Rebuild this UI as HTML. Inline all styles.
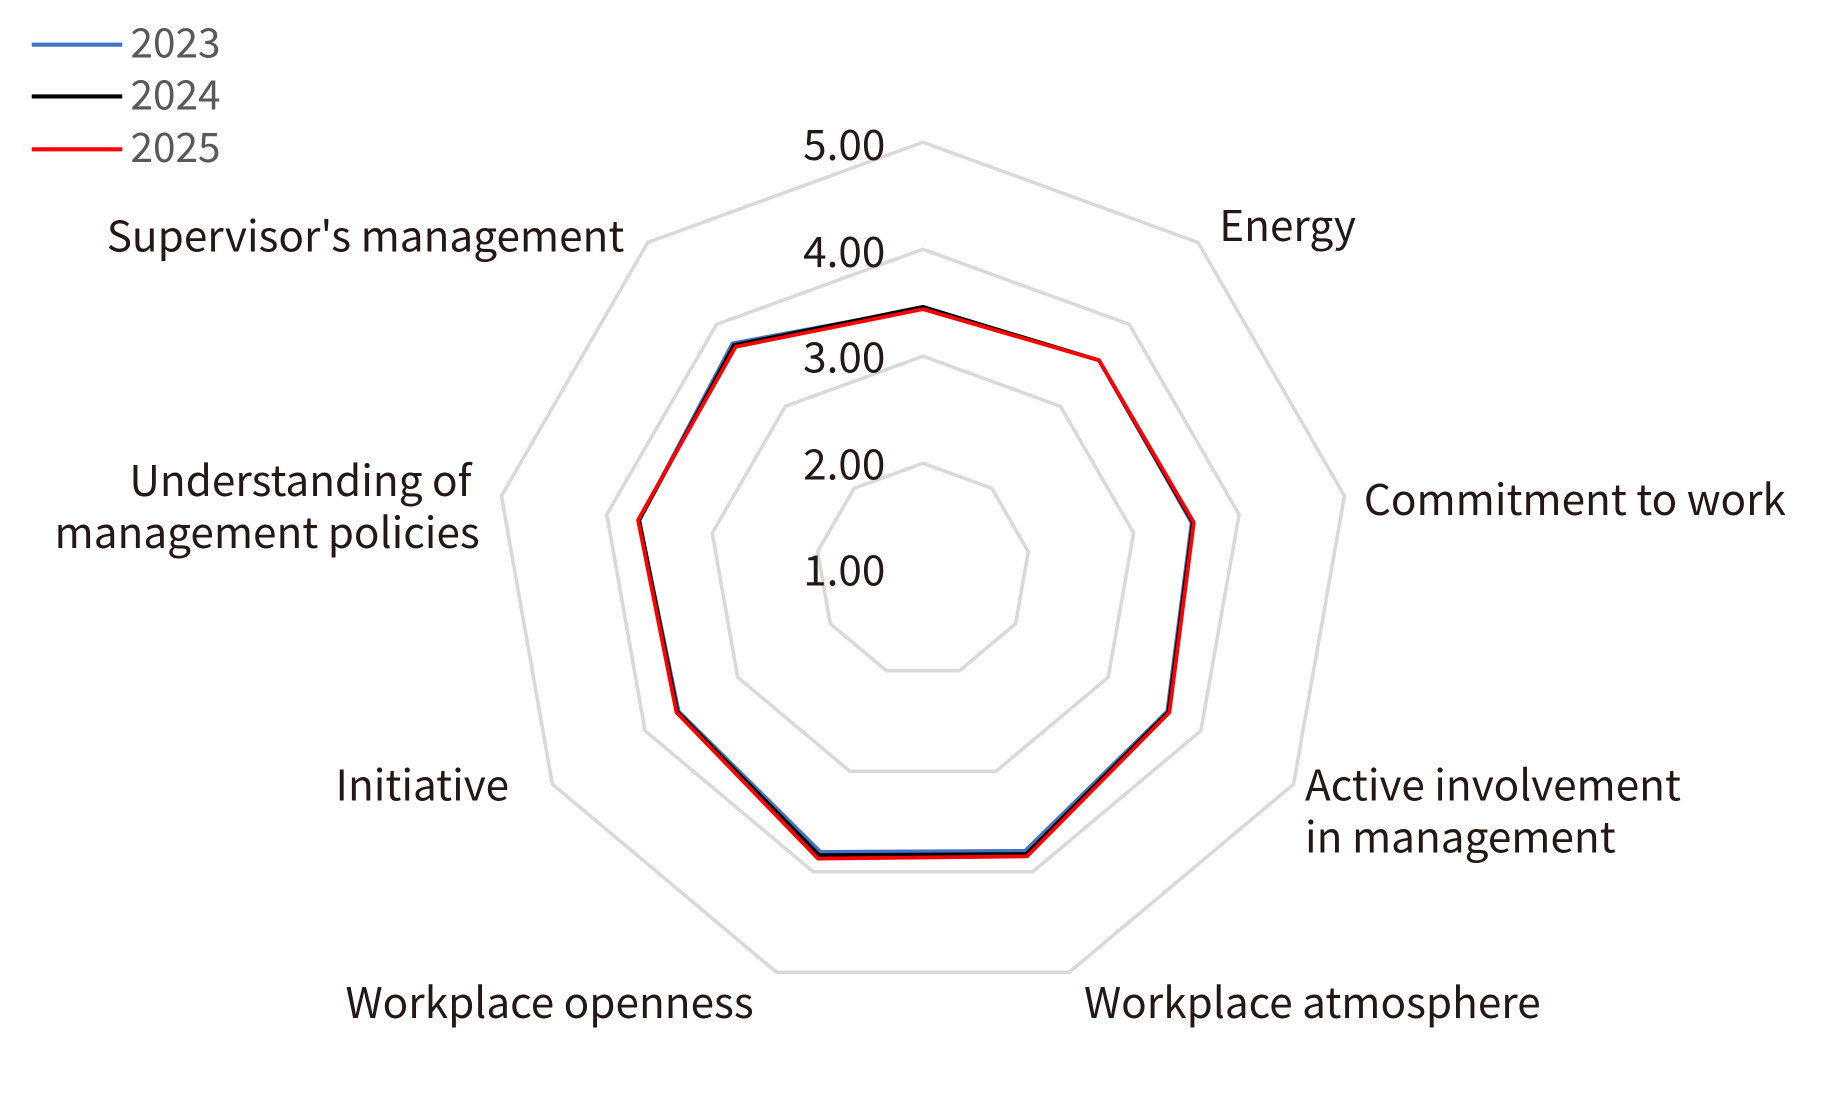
<!DOCTYPE html>
<html><head><meta charset="utf-8">
<style>
html,body{margin:0;padding:0;background:#fff;}
svg{display:block;}
text{font-family:"Noto Sans CJK JP","Liberation Sans",sans-serif;}
</style></head>
<body>
<svg id="s" width="1840" height="1109" viewBox="0 0 1565 943.3" preserveAspectRatio="none" xmlns="http://www.w3.org/2000/svg">
<g id="grid" fill="none" stroke="#d9d9d9" stroke-width="3"></g>
<g id="series" fill="none" stroke-width="3.2" stroke-linejoin="round"></g>
<g font-size="36" fill="#231815">
<text x="753" y="136" text-anchor="end">5.00</text>
<text x="753" y="227" text-anchor="end">4.00</text>
<text x="753" y="317" text-anchor="end">3.00</text>
<text x="753" y="408" text-anchor="end">2.00</text>
<text x="753" y="498" text-anchor="end">1.00</text>
<text x="531" y="214" text-anchor="end">Supervisor's management</text>
<text x="1037" y="205">Energy</text>
<text x="1160" y="438">Commitment to work</text>
<text x="1110" y="681">Active involvement</text>
<text x="1110" y="725">in management</text>
<text x="922" y="866">Workplace atmosphere</text>
<text x="641" y="866" text-anchor="end">Workplace openness</text>
<text x="433" y="681" text-anchor="end">Initiative</text>
<text x="401" y="422" text-anchor="end">Understanding of</text>
<text x="408" y="466" text-anchor="end">management policies</text>
</g>
<g font-size="34.5" fill="#595959">
<line x1="27" y1="38" x2="104" y2="38" stroke="#4472C4" stroke-width="3.5"/>
<line x1="27" y1="82" x2="104" y2="82" stroke="#000" stroke-width="3.5"/>
<line x1="27" y1="127" x2="104" y2="127" stroke="#FF0000" stroke-width="3.5"/>
<text x="111" y="49">2023</text>
<text x="111" y="93">2024</text>
<text x="111" y="138">2025</text>
</g>
</svg>
<script>
var cx=785,cy=485,NS="http://www.w3.org/2000/svg";
function pts(rs){return rs.map(function(r,i){var a=i*40*Math.PI/180;return (cx+r*Math.sin(a)).toFixed(1)+","+(cy-r*Math.cos(a)).toFixed(1);}).join(" ");}
var g=document.getElementById("grid");
[91,182,273,364].forEach(function(R){var p=document.createElementNS(NS,"polygon");p.setAttribute("points",pts([R,R,R,R,R,R,R,R,R]));g.appendChild(p);});
var s=document.getElementById("series");
var data=[["#4472C4",[223,233,232,240,254,255,240,245,252]],["#000000",[224,233,233,241,257,258,241,245,250]],["#FF0000",[222,233,234,242,259,261,242,246,248]]];
data.forEach(function(d){var p=document.createElementNS(NS,"polygon");p.setAttribute("points",pts(d[1]));p.setAttribute("stroke",d[0]);s.appendChild(p);});
</script>
</body></html>
